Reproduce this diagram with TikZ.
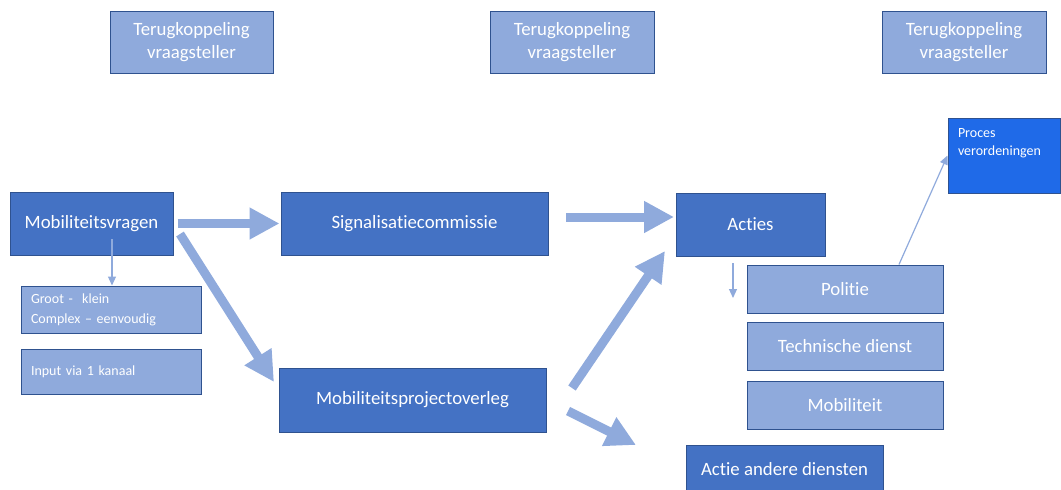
\documentclass[tikz,border=0pt]{standalone}
\usepackage{fontspec}
\setmainfont[Ligatures=NoCommon]{Carlito}
\usepackage{tikz}
\usetikzlibrary{arrows.meta}
\definecolor{donker}{HTML}{4472C4}
\definecolor{licht}{HTML}{8FAADC}
\definecolor{rand}{HTML}{2F528F}
\definecolor{fel}{HTML}{1F6AE8}

\begin{document}
\begin{tikzpicture}[x=1pt,y=-1pt]
		\tikzstyle{BoxStyle}=[draw=rand,line width=1pt,text=white,inner sep=0pt,align=center,font=\fontsize{18.8}{23}\selectfont]
		\tikzstyle{Donker}=[BoxStyle,fill=donker]
		\tikzstyle{Licht}=[BoxStyle,fill=licht]
		\tikzstyle{Klein}=[Licht,font=\fontsize{14}{20}\selectfont,align=left,text width=160pt]
		\tikzstyle{DikkePijl}=[licht,line width=9pt,-{Triangle[width=30pt,length=30pt]}]
		\tikzstyle{DunnePijl}=[licht,line width=1.2pt,-{Triangle[width=8pt,length=9pt]}]
		\useasboundingbox (0,0) rectangle (1061,490);
		% terugkoppeling
		\node[Licht,minimum width=163pt,minimum height=62pt] (terug1) at (191.5,42) {Terugkoppeling\\vraagsteller};
		\node[Licht,minimum width=164pt,minimum height=62pt] (terug2) at (572,42) {Terugkoppeling\\vraagsteller};
		\node[Licht,minimum width=164pt,minimum height=62pt] (terug3) at (964,42) {Terugkoppeling\\vraagsteller};
		% vragen
		\node[Donker,minimum width=163pt,minimum height=63pt] (mob) at (91.5,223.5) {Mobiliteitsvragen};
		\node[Klein,minimum width=180pt,minimum height=47pt] (groot) at (111,309.5) {Groot -~~klein\\Complex -- eenvoudig};
		\node[Klein,minimum width=180pt,minimum height=45pt] (input) at (111,371.5) {Input via 1 kanaal};
		% overleg
		\node[Donker,minimum width=267pt,minimum height=63pt] (sig) at (414.5,223.5) {Signalisatiecommissie};
		\node[Donker,minimum width=267pt,minimum height=64pt] (mpo) at (412.5,400) {Mobiliteitsprojectoverleg};
		% acties
		\node[Donker,minimum width=149pt,minimum height=63pt] (acties) at (750.5,224.5) {Acties};
		\node[BoxStyle,fill=fel,minimum width=112pt,minimum height=75pt,font=\fontsize{14}{18}\selectfont] (proces) at (1004,155.5)
			{\parbox[c][75pt][t]{92pt}{\vspace*{11pt}Proces\\verordeningen}};
		\node[Licht,minimum width=196pt,minimum height=48pt] (politie) at (845,289) {Politie};
		\node[Licht,minimum width=196pt,minimum height=48pt] (tech) at (845,346) {Technische dienst};
		\node[Licht,minimum width=196pt,minimum height=48pt] (mobil) at (845,405) {Mobiliteit};
		\node[Donker,minimum width=197pt,minimum height=48pt] (andere) at (784.5,469) {Actie andere diensten};
		% vrije eindpunten
		\coordinate (p2s) at (180,234);
		\coordinate (p2e) at (274,382);
		\coordinate (p3s) at (566,217);
		\coordinate (p3e) at (674,217);
		\coordinate (p4s) at (572,388);
		\coordinate (p4e) at (665,251);
		\coordinate (p5s) at (568,411);
		\coordinate (p5e) at (636,445);
		\coordinate (mobval) at (112,239);
		\coordinate (actval) at (733,263);
		\coordinate (actend) at (733,298);
		% pijlen
		\draw[DikkePijl,shorten <=4pt,shorten >=1pt] (mob.east) -- (sig.west);
		\draw[DikkePijl] (p2s) -- (p2e);
		\draw[DikkePijl] (p3s) -- (p3e);
		\draw[DikkePijl] (p4s) -- (p4e);
		\draw[DikkePijl] (p5s) -- (p5e);
		\draw[DunnePijl] (mobval) -- (mobval |- groot.north);
		\draw[DunnePijl] (actval) -- (actend);
		\draw[DunnePijl] ([xshift=54pt]politie.north) -- (proces.west);
	\end{tikzpicture}
\end{document}
